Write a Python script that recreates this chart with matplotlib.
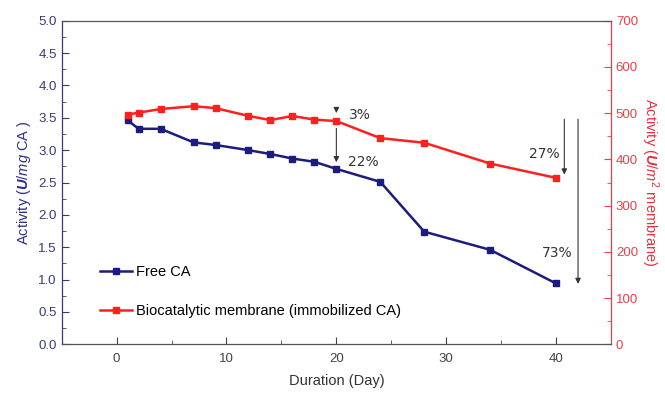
import matplotlib
matplotlib.use('Agg')
import matplotlib.pyplot as plt
from matplotlib.ticker import MultipleLocator

plt.rcParams['font.family'] = ['Liberation Sans', 'DejaVu Sans']
plt.rcParams['mathtext.fontset'] = 'custom'
plt.rcParams['mathtext.rm'] = 'Liberation Sans'
plt.rcParams['mathtext.it'] = 'Liberation Sans:italic'
plt.rcParams['mathtext.bf'] = 'Liberation Sans:bold'
plt.rcParams['mathtext.bfit'] = 'Liberation Sans:italic:bold'

# data
days = [1, 2, 4, 7, 9, 12, 14, 16, 18, 20, 24, 28, 34, 40]
free_ca = [3.46, 3.33, 3.33, 3.12, 3.08, 3.0, 2.94, 2.87, 2.82, 2.71, 2.51, 1.74, 1.46, 0.94]
membrane = [497, 501, 509, 515, 511, 494, 485, 494, 486, 483, 446, 436, 391, 360]
loss_labels = ['3%', '22%', '27%', '73%']

navy = '#1C1C7C'
red = '#FF1F1F'

fig = plt.figure(figsize=(6.65, 3.93), dpi=100)
ax = fig.add_axes([0.0928, 0.1239, 0.8260, 0.8234])
ax2 = ax.twinx()

l1, = ax.plot(days, free_ca, '-s', color=navy, lw=1.8, ms=5, label='Free CA')
l2, = ax2.plot(days, membrane, '-s', color=red, lw=1.8, ms=5,
               label='Biocatalytic membrane (immobilized CA)')

ax.set_xlim(-5, 45)
ax.set_ylim(0, 5)
ax2.set_ylim(0, 700)

ax.xaxis.set_major_locator(MultipleLocator(10))
ax.xaxis.set_minor_locator(MultipleLocator(5))
ax.yaxis.set_major_locator(MultipleLocator(0.5))
ax.yaxis.set_minor_locator(MultipleLocator(0.25))
ax2.yaxis.set_major_locator(MultipleLocator(100))
ax2.yaxis.set_minor_locator(MultipleLocator(50))

ax.tick_params(axis='x', which='both', direction='in', colors='#444444', labelsize=9.5, pad=6)
ax.tick_params(axis='x', which='major', length=5)
ax.tick_params(axis='x', which='minor', length=3)
ax.tick_params(axis='y', which='both', direction='in', colors='#3A3A78', labelsize=9.5)
ax.tick_params(axis='y', which='major', length=5)
ax.tick_params(axis='y', which='minor', length=3)
ax2.tick_params(axis='y', which='both', direction='in', colors='#E8404A', labelsize=9.5)
ax2.tick_params(axis='y', which='major', length=5)
ax2.tick_params(axis='y', which='minor', length=3)

for s in ['top', 'bottom']:
    ax2.spines[s].set_color('#555555')
ax2.spines['left'].set_color('#3A3A78')
ax2.spines['right'].set_color('#E8404A')

ax.set_xlabel('Duration (Day)', fontsize=10.5, color='#333333', labelpad=7)
ax.set_ylabel(r'Activity ($\mathbfit{U}$/$mg$ CA )', fontsize=10.5, color='#2E2E8C')
ax2.set_ylabel(r'Activity ($\mathbfit{U}$/$m^2$ membrane)', fontsize=10.5,
               color='#E8303A', rotation=270, labelpad=16)

# loss arrows
arrow = dict(arrowstyle='-|>', color='#333333', lw=0.8, mutation_scale=8)
ax.annotate('', xy=(20, 3.53), xytext=(20, 3.66), arrowprops=arrow)
ax.annotate('', xy=(20, 2.77), xytext=(20, 3.38), arrowprops=arrow)
ax.annotate('', xy=(40.75, 2.58), xytext=(40.75, 3.52), arrowprops=arrow)
ax.annotate('', xy=(42, 0.89), xytext=(42, 3.52), arrowprops=arrow)

tk = dict(fontsize=10, color='#333333', va='center', family=['DejaVu Sans'])
ax.text(21.1, 3.54, loss_labels[0], **tk)
ax.text(21.1, 2.82, loss_labels[1], **tk)
ax.text(37.5, 2.94, loss_labels[2], **tk)
ax.text(38.75, 1.41, loss_labels[3], **tk)

ax.legend(handles=[l1, l2], loc='lower left', bbox_to_anchor=(0.045, 0.04),
          frameon=False, fontsize=10.5, handlelength=2.2, handletextpad=0.3,
          labelspacing=1.75)

fig.savefig('out.png', dpi=100)
